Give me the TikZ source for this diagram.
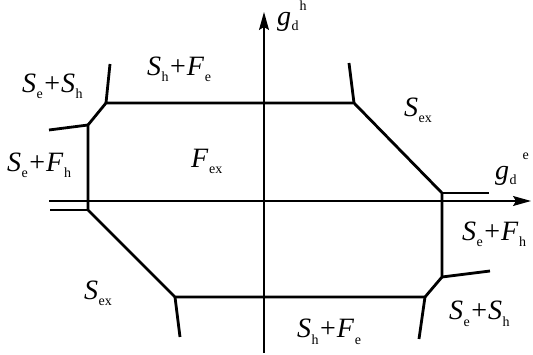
\documentclass[tikz,border=0pt]{standalone}
\usepackage{fontspec}
\setmainfont{Liberation Serif}
\usetikzlibrary{arrows.meta}
\newcommand{\subsz}{\fontsize{14}{14}\selectfont}
\newcommand{\lbl}[2]{\textit{#1}\kern0.5pt\raisebox{-6pt}{\subsz #2}}
\newcommand{\pl}{\kern1.5pt+\kern1pt}
\newcommand{\gdlab}[3]{\textit{g}\kern0.5pt\raisebox{-5pt}{\subsz d}\kern#3\raisebox{#2}{\subsz #1}}
\tikzset{
  bound/.style={line width=2.8pt, line join=miter, line cap=butt},
  axisline/.style={line width=1.3pt, -{Stealth[length=18pt,width=10pt,inset=3pt]}},
  txt/.style={anchor=base west, inner sep=0pt, font=\fontsize{28}{28}\selectfont}
}
\begin{document}
\begin{tikzpicture}[x=1pt,y=-1pt]
\useasboundingbox (0,0) rectangle (533,355);
% vertices
\coordinate (A) at (106,103);
\coordinate (B) at (354,103);
\coordinate (C) at (442,193);
\coordinate (D) at (442,277);
\coordinate (E) at (425,297);
\coordinate (F) at (175,297);
\coordinate (G) at (88,210);
\coordinate (H) at (88,125);
% spike ends
\coordinate (A1) at (110,64);
\coordinate (B1) at (349,63);
\coordinate (C1) at (489,193);
\coordinate (D1) at (490,271);
\coordinate (E1) at (419,339);
\coordinate (F1) at (180,337);
\coordinate (G1) at (50,210);
\coordinate (H1) at (49,130);
% axes
\coordinate (xs) at (49,201);
\coordinate (xe) at (531,201);
\coordinate (ys) at (264,353);
\coordinate (ye) at (264,12);
\draw[axisline] (xs) -- (xe);
\draw[axisline] (ys) -- (ye);
% boundary
\draw[bound] (A) -- (B) -- (C) -- (D) -- (E) -- (F) -- (G) -- (H) -- cycle;
\draw[bound] (A) -- (A1);
\draw[bound] (B) -- (B1);
\draw[bound] (C) -- (C1);
\draw[bound] (D) -- (D1);
\draw[bound] (E) -- (E1);
\draw[bound] (F) -- (F1);
\draw[bound] (G) -- (G1);
\draw[bound] (H) -- (H1);
% labels
\node[txt] (gh) at (277,26) {\gdlab{h}{15pt}{1pt}};
\node[txt] (ge) at (495,180) {\gdlab{e}{20pt}{6pt}};
\node[txt] (l1) at (22,93) {\lbl{S}{e}\pl\lbl{S}{h}};
\node[txt] (l2) at (147,76) {\lbl{S}{h}\pl\lbl{F}{e}};
\node[txt] (l3) at (404,117) {\lbl{S}{ex}};
\node[txt] (l4) at (7,172) {\lbl{S}{e}\pl\lbl{F}{h}};
\node[txt] (l5) at (191,168) {\lbl{F}{ex}};
\node[txt] (l6) at (462,241) {\lbl{S}{e}\pl\lbl{F}{h}};
\node[txt] (l7) at (84,300) {\lbl{S}{ex}};
\node[txt] (l8) at (449,320) {\lbl{S}{e}\pl\lbl{S}{h}};
\node[txt] (l9) at (297,338) {\lbl{S}{h}\pl\lbl{F}{e}};
\end{tikzpicture}
\end{document}
